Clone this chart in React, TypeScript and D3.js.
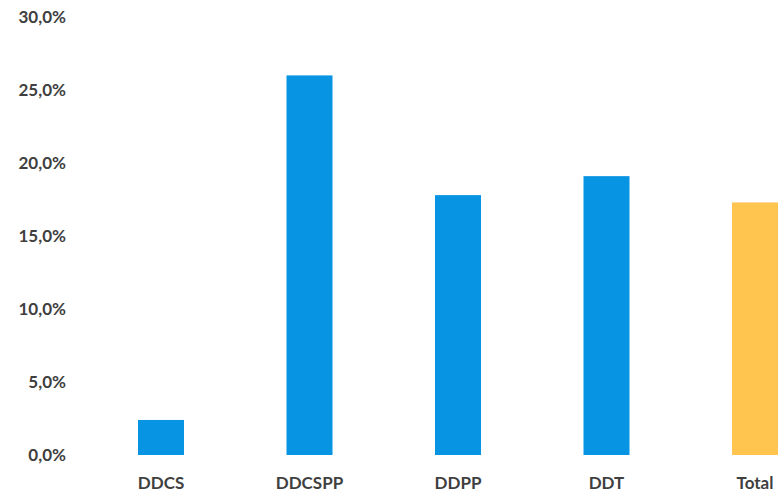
import React from "react";
import * as d3 from "d3";

const categories = ["DDCS", "DDCSPP", "DDPP", "DDT", "Total"];
const values = [2.4, 26.0, 17.8, 19.1, 17.3];
const yTicks = [0, 5, 10, 15, 20, 25, 30];
const barColors = ["#0795E3", "#0795E3", "#0795E3", "#0795E3", "#FFC54F"];

const W = 779;
const H = 494;

export default function App() {
  const y = d3.scaleLinear().domain([0, 30]).range([455, 17]);
  const x = d3.scalePoint<string>().domain(categories).range([161, 755]).padding(0);
  const bw = 46;
  const fmt = (v: number) => v.toFixed(1).replace(".", ",") + "%";
  const font = "Lato, 'Open Sans', sans-serif";
  return (
    <svg
      width={W}
      height={H}
      style={{ position: "absolute", left: 0, top: 0, background: "#fff" }}
    >
      {yTicks.map((t) => (
        <text
          key={t}
          x={66}
          y={y(t) + 1.5}
          textAnchor="end"
          dominantBaseline="middle"
          fontFamily={font}
          fontWeight={700}
          fontSize={17}
          fill="#3f3f3f"
        >
          {fmt(t)}
        </text>
      ))}
      {categories.map((c, i) => (
        <rect
          key={c}
          x={(x(c) as number) - bw / 2}
          y={y(values[i])}
          width={bw}
          height={y(0) - y(values[i])}
          fill={barColors[i]}
        />
      ))}
      {categories.map((c) => (
        <text
          key={c}
          x={x(c) as number}
          y={485}
          textAnchor="middle"
          dominantBaseline="middle"
          fontFamily={font}
          fontWeight={700}
          fontSize={17}
          fill="#3f3f3f"
        >
          {c}
        </text>
      ))}
    </svg>
  );
}
